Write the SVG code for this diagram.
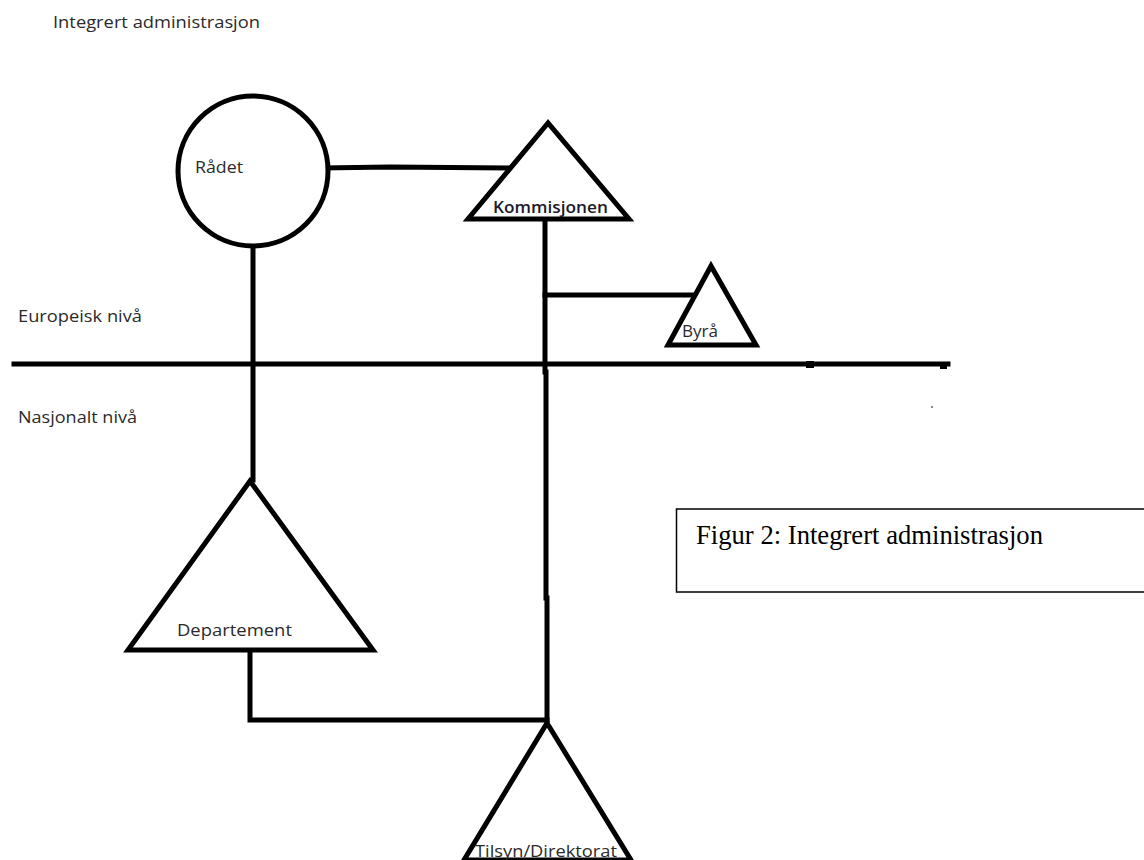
<svg xmlns="http://www.w3.org/2000/svg" width="1144" height="860" viewBox="0 0 1144 860">
<style>
.shape{fill:#fff;stroke:#000;stroke-width:5;stroke-linejoin:miter}
.conn{fill:none;stroke:#000;stroke-width:5;stroke-linecap:square}
.lbl{font-family:"Open Sans","Liberation Sans",sans-serif;font-size:17px;fill:#2a2a2a}
.bold{font-weight:600;fill:#1a1a2a}
.cap{font-family:"Liberation Serif","Times New Roman",serif;font-size:26.5px;fill:#000}
</style>
<rect width="1144" height="860" fill="#fff"/>
<text class="lbl" x="53" y="28" textLength="207" lengthAdjust="spacingAndGlyphs">Integrert administrasjon</text>
<text class="lbl" x="18" y="322" textLength="124" lengthAdjust="spacingAndGlyphs">Europeisk nivå</text>
<text class="lbl" x="18" y="423" textLength="119" lengthAdjust="spacingAndGlyphs">Nasjonalt nivå</text>
<g id="connectors">
<path class="conn" d="M14 364 H948"/>
<path class="conn" d="M322 168 L390 167 L515 168"/>
<path class="conn" d="M253 247 V480"/>
<path class="conn" d="M545 222 V372"/>
<path class="conn" d="M546 372 V598"/>
<path class="conn" d="M547 598 V720"/>
<path class="conn" d="M545 295 H695"/>
<path class="conn" d="M250 652 V720 H547"/>
<rect x="806" y="361" width="8" height="7" fill="#000"/>
<rect x="940" y="363" width="7" height="6" fill="#000"/>
</g>
<g id="radet">
<circle class="shape" cx="253" cy="171" r="75"/>
<text class="lbl" x="195" y="173" textLength="48" lengthAdjust="spacingAndGlyphs">Rådet</text>
</g>
<g id="kommisjonen">
<polygon class="shape" points="548,123 468,219 629,219"/>
<text class="lbl bold" x="493" y="213" font-size="15" textLength="115" lengthAdjust="spacingAndGlyphs">Kommisjonen</text>
</g>
<g id="byra">
<polygon class="shape" points="711,266 668,345 756,345"/>
<text class="lbl" x="682" y="337" textLength="36" lengthAdjust="spacingAndGlyphs">Byrå</text>
</g>
<g id="departement">
<polygon class="shape" points="250,481 128,650 373,650"/>
<text class="lbl" x="177" y="636" textLength="115" lengthAdjust="spacingAndGlyphs">Departement</text>
</g>
<g id="tilsyn">
<polygon class="shape" points="547,723 464,860 631,860"/>
<text class="lbl" x="475" y="857" textLength="142" lengthAdjust="spacingAndGlyphs">Tilsyn/Direktorat</text>
</g>
<g id="caption">
<rect x="676.5" y="509" width="480" height="83" fill="#fff" stroke="#000" stroke-width="1.5"/>
<text class="cap" x="696" y="544" textLength="347" lengthAdjust="spacingAndGlyphs">Figur 2: Integrert administrasjon</text>
</g>
<rect x="931" y="406" width="2" height="2" fill="#888"/>
</svg>
